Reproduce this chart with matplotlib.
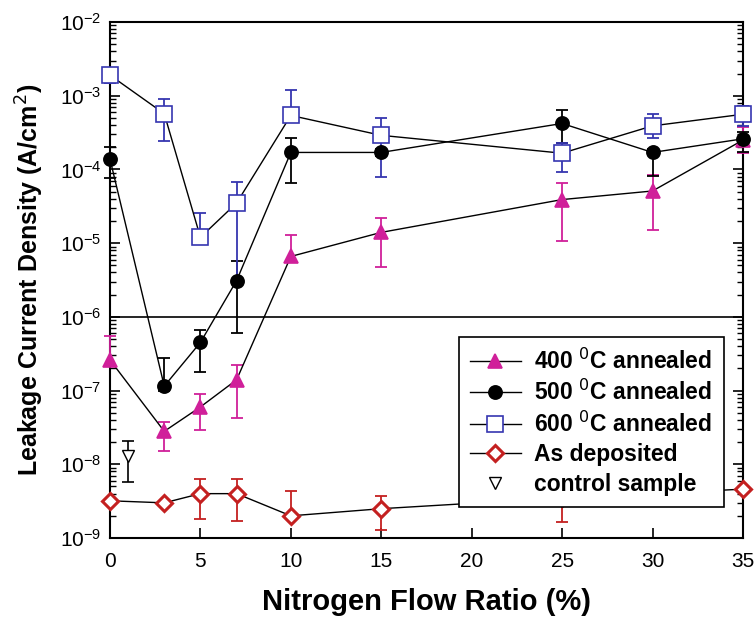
import numpy as np
import matplotlib
matplotlib.use("Agg")
import matplotlib.pyplot as plt
from matplotlib.ticker import LogLocator, NullFormatter

plt.rcParams["font.family"] = ["Liberation Sans", "DejaVu Sans"]

# ---- data ----
x = [0, 3, 5, 7, 10, 15, 25, 30, 35]

# 400 C annealed
y400 = [2.6e-7, 2.8e-8, 6.0e-8, 1.4e-7, 6.6e-6, 1.4e-5, 3.9e-5, 5.1e-5, 2.5e-4]
lo400 = [2.2e-7, 1.5e-8, 2.9e-8, 4.2e-8, 6.0e-6, 4.8e-6, 1.07e-5, 1.5e-5, 1.66e-4]
hi400 = [5.5e-7, 3.8e-8, 9.1e-8, 2.2e-7, 1.3e-5, 2.2e-5, 6.6e-5, 8.3e-5, 3.8e-4]

# 500 C annealed
y500 = [1.38e-4, 1.15e-7, 4.5e-7, 3.1e-6, 1.7e-4, 1.7e-4, 4.2e-4, 1.7e-4, 2.6e-4]
lo500 = [7.6e-5, 1.0e-7, 1.8e-7, 6.0e-7, 6.6e-5, 1.5e-4, 2.3e-4, 8.1e-5, 1.7e-4]
hi500 = [2.0e-4, 2.8e-7, 6.6e-7, 5.8e-6, 2.7e-4, 1.9e-4, 6.4e-4, 1.9e-4, 3.2e-4]

# 600 C annealed
y600 = [1.9e-3, 5.7e-4, 1.2e-5, 3.5e-5, 5.4e-4, 2.9e-4, 1.66e-4, 3.9e-4, 5.6e-4]
lo600 = [1.5e-3, 2.4e-4, 1.1e-5, 3.2e-6, 5.0e-4, 8.0e-5, 9.3e-5, 2.7e-4, 3.9e-4]
hi600 = [2.1e-3, 8.9e-4, 2.6e-5, 6.8e-5, 1.2e-3, 5.0e-4, 2.3e-4, 5.6e-4, 7.2e-4]

# as deposited (no point at 30 %)
xdep = [0, 3, 5, 7, 10, 15, 25, 35]
ydep = [3.2e-9, 3.0e-9, 4.0e-9, 4.0e-9, 2.0e-9, 2.5e-9, 3.5e-9, 4.6e-9]
lodep = [3.2e-9, 3.0e-9, 1.8e-9, 1.7e-9, 1.9e-9, 1.3e-9, 1.65e-9, 4.6e-9]
hidep = [3.2e-9, 3.0e-9, 6.4e-9, 6.4e-9, 4.4e-9, 3.7e-9, 4.0e-9, 4.6e-9]

# control sample
xctl = [1]
yctl = [1.3e-8]
loctl = [5.8e-9]
hictl = [2.1e-8]

fig = plt.figure(figsize=(7.55, 6.23), dpi=100)
ax = fig.add_axes([0.1457, 0.1364, 0.8383, 0.8283])


def err(y, lo, hi):
    y = np.array(y)
    return [y - np.array(lo), np.array(hi) - y]


def series(xs, ys, lo, hi, color, marker, ms, mfc, label, lw=1.0, mew=1.2):
    ax.errorbar(xs, ys, yerr=err(ys, lo, hi), fmt="none", ecolor=color,
                elinewidth=1.3, capsize=4, capthick=1.3, clip_on=False, zorder=3)
    ax.plot(xs, ys, color="black", lw=lw, marker=marker, ms=ms,
            mfc=mfc, mec=color, mew=mew, label=label, clip_on=False, zorder=4)


series(x, y400, lo400, hi400, "#d0209a", "^", 10, "#d0209a", "400 $^{0}$C annealed")
series(x, y500, lo500, hi500, "black", "o", 9.5, "black", "500 $^{0}$C annealed")
series(x, y600, lo600, hi600, "#3636b0", "s", 11, "white", "600 $^{0}$C annealed")
series(xdep, ydep, lodep, hidep, "#c42020", "D", 8.5, "white", "As deposited", mew=2.2)

ax.errorbar(xctl, yctl, yerr=err(yctl, loctl, hictl), fmt="none", ecolor="black",
            elinewidth=1.2, capsize=4, capthick=1.2, zorder=3)
ax.plot(xctl, yctl, ls="none", marker="v", ms=8, mfc="white", mec="black",
        mew=1.0, label="control sample", zorder=4)

ax.axhline(1e-6, color="black", lw=1.2, zorder=2)

ax.set_yscale("log")
ax.set_xlim(0, 35)
ax.set_ylim(1e-9, 1e-2)
ax.set_xticks([0, 5, 10, 15, 20, 25, 30, 35])
ax.yaxis.set_major_locator(LogLocator(base=10, numticks=20))
ax.yaxis.set_minor_locator(LogLocator(base=10, subs=np.arange(2, 10), numticks=20))
ax.yaxis.set_minor_formatter(NullFormatter())
ax.tick_params(axis="both", which="both", direction="in", labelsize=15,
               right=True, top=False)
ax.tick_params(axis="y", which="major", length=7, width=1.2, pad=6)
ax.tick_params(axis="y", which="minor", length=4, width=1.0)
ax.tick_params(axis="x", which="major", length=7, width=1.2, pad=10)
for s in ax.spines.values():
    s.set_linewidth(1.5)

ax.set_xlabel("Nitrogen Flow Ratio (%)", fontsize=21, fontweight="bold", labelpad=12)
ax.set_ylabel("Leakage Current Density (A/cm$^2$)", fontsize=18, fontweight="bold",
              labelpad=10)

leg = ax.legend(loc="lower right", bbox_to_anchor=(0.970, 0.060), borderaxespad=0,
                prop={"weight": "bold", "size": 16.5}, frameon=True, fancybox=False,
                edgecolor="black", framealpha=1.0, handlelength=2.2,
                handletextpad=0.6, borderpad=0.5, labelspacing=0.28)
leg.get_frame().set_linewidth(1.2)
leg.set_zorder(10)

fig.savefig("out.png", dpi=100)
